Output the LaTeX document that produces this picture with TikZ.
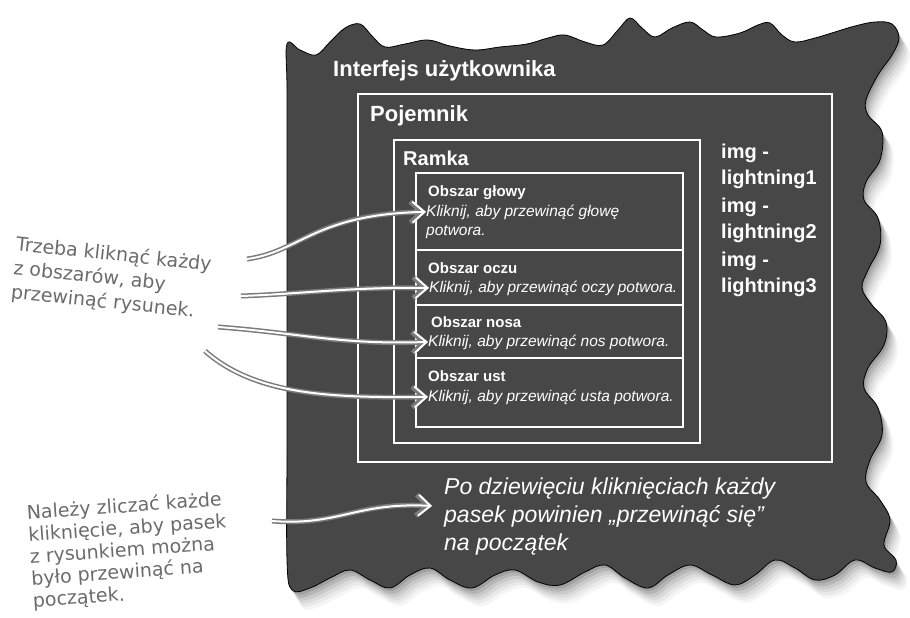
\documentclass[tikz,border=0pt]{standalone}
\usepackage{fontspec}
\setmainfont{Liberation Sans}
\newfontfamily\handfont{DejaVu Sans}
\usetikzlibrary{arrows.meta,positioning}
\definecolor{board}{HTML}{474747}
\definecolor{pencil}{HTML}{6B6B6B}
\tikzset{
    panel/.style={draw=white, line width=1.3pt, fill=board, inner sep=0pt, outer sep=0pt, anchor=north west},
    cell/.style={panel, minimum width=267pt},
    heading/.style={text=white, inner sep=0pt, anchor=base west, font=\bfseries\fontsize{#1}{#1}\selectfont},
    hint/.style={text=white, inner sep=0pt, anchor=base west, font=\itshape\fontsize{15.5}{18}\selectfont},
    scribble/.style={text=pencil, inner sep=0pt, anchor=north west, align=left, font=\handfont\fontsize{19}{24}\selectfont},
    pointer/.style={draw=white, line width=2pt, -{Straight Barb[length=12pt,width=21pt]},
        preaction={draw=pencil!90, line width=5pt, -{Straight Barb[length=12pt,width=21pt]}}},
}
\newcommand\tornedge{plot[smooth cycle, tension=0.6] coordinates {
    (287,44) (300,50) (316,55) (330,42) (345,28) (360,24) (372,36) (385,47) (405,44) (428,40)
    (450,46) (475,50) (500,47) (527,44) (548,38) (565,35) (585,42) (603,45) (618,30) (630,18)
    (642,28) (655,37) (672,28) (690,22) (703,30) (716,37) (740,33) (758,25) (770,23) (782,35)
    (795,42) (815,38) (835,32) (855,26) (875,22) (892,24)
    (899,38) (892,55) (878,75) (866,100) (868,115) (882,132) (880,160) (866,182) (864,200)
    (878,218) (880,245) (868,270) (862,288) (872,305) (886,322) (884,345) (868,368) (864,388)
    (878,408) (882,435) (870,460) (866,482) (880,500) (890,520) (884,545) (896,560) (892,572)
    (875,568) (855,560) (835,575) (815,580) (795,568) (775,560) (755,575) (735,585) (712,575)
    (690,565) (668,575) (648,588) (625,578) (605,565) (585,572) (560,585) (538,582) (515,570)
    (495,575) (472,588) (450,580) (430,568) (410,575) (390,588) (370,580) (350,570) (330,578)
    (310,588) (292,590) (287,560) (287,450) (287,330) (287,200) (287,90)}}

\begin{document}
\begin{tikzpicture}[x=1pt,y=-1pt]
    \useasboundingbox (0,0) rectangle (910,618);
    % torn board with a soft shadow
    \foreach \d/\o in {18/0.04,15/0.05,12/0.06,9/0.08,6/0.1,3/0.12}
        \fill[black, opacity=\o, shift={(0.6*\d,\d)}] \tornedge;
    \filldraw[fill=board, draw=black, line width=0.8pt] \tornedge;

    \node[heading=22] (uititle) at (333,77) {Interfejs użytkownika};
    \node[panel, minimum width=474pt, minimum height=368pt] (pojemnik) at (358,94) {};
    \node[heading=22] (pojtitle) at (370,121) {Pojemnik};
    \node[panel, minimum width=306pt, minimum height=303pt] (ramka) at (394,140) {};
    \node[heading=20] (ramtitle) at (403,165) {Ramka};
    \foreach \n/\y in {1/158,2/212,3/266} {
        \node[heading=20] (img\n) at (721,\y) {img -};
        \node[heading=20] (light\n) at (721,\y+26) {lightning\n};
    }

    % clickable areas
    \node[cell, minimum height=77pt] (glowa) at (416,173) {};
    \node[cell, minimum height=55pt, below=0pt of glowa] (oczy) {};
    \node[cell, minimum height=53pt, below=0pt of oczy] (nos) {};
    \node[cell, minimum height=69pt, below=0pt of nos] (usta) {};
    \node[heading=15] (tglowa) at (428,196) {Obszar głowy};
    \node[hint] (hglowa) at (426,216) {Kliknij, aby przewinąć głowę};
    \node[hint] (hglowa2) at (426,235) {potwora.};
    \node[heading=15] (toczy) at (428,273) {Obszar oczu};
    \node[hint] (hoczy) at (429,292) {Kliknij, aby przewinąć oczy potwora.};
    \node[heading=15] (tnos) at (431,327) {Obszar nosa};
    \node[hint] (hnos) at (428,346) {Kliknij, aby przewinąć nos potwora.};
    \node[heading=15] (tust) at (428,381) {Obszar ust};
    \node[hint] (hust) at (428,401) {Kliknij, aby przewinąć usta potwora.};

    \node[text=white, inner sep=0pt, anchor=north west, align=left,
        font=\itshape\fontsize{23}{28}\selectfont] (reset) at (444,478)
        {Po dziewięciu kliknięciach każdy\\pasek powinien „przewinąć się”\\na początek};

    % notes
    \node[scribble, rotate=-6] (klik) at (17,235) {Trzeba kliknąć każdy\\z obszarów, aby\\przewinąć rysunek.};
    \node[scribble, rotate=4, font=\handfont\fontsize{19}{22}\selectfont] (licz) at (26,504)
        {Należy zliczać każde\\kliknięcie, aby pasek\\z rysunkiem można\\było przewinąć na\\początek.};

    \coordinate (s1) at (247,259);
    \coordinate (s2) at (241,296);
    \coordinate (s3) at (218,327);
    \coordinate (s4) at (205,351);
    \coordinate (s5) at (272,521);
    \draw[pointer] (s1) .. controls (300,252) and (315,214) .. (hglowa.west);
    \draw[pointer] (s2) .. controls (300,294) and (350,287) .. (hoczy.west);
    \draw[pointer] (s3) .. controls (300,333) and (340,345) .. (hnos.west);
    \draw[pointer] (s4) .. controls (255,395) and (330,398) .. (hust.west);
    \draw[pointer] (s5) .. controls (340,526) and (355,502) .. ([shift={(-12pt,11pt)}]reset.west);
\end{tikzpicture}
\end{document}
